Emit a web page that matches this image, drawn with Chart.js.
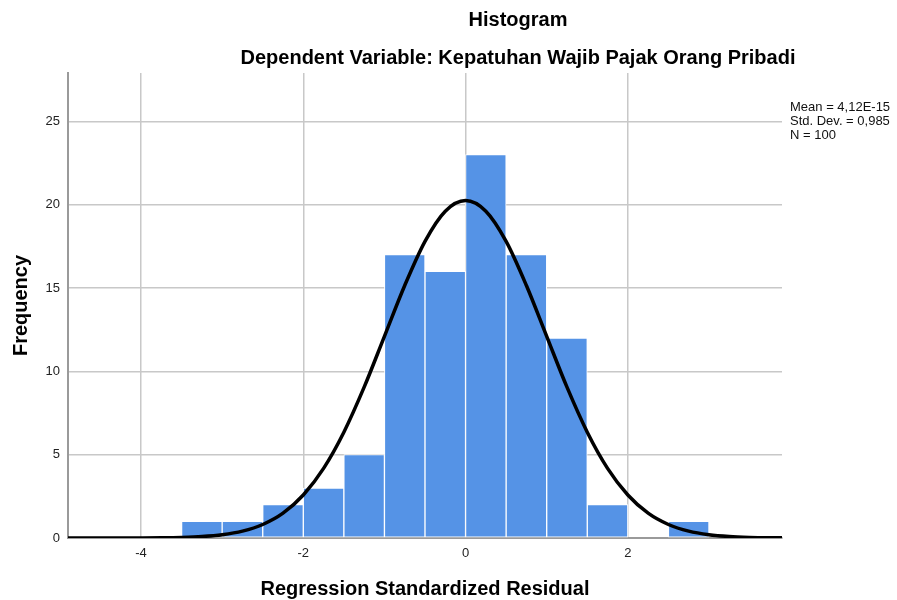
<!DOCTYPE html>
<html>
<head>
<meta charset="utf-8">
<script src="https://cdn.jsdelivr.net/npm/chart.js@4/dist/chart.umd.min.js"></script>
<style>
html,body{margin:0;padding:0;background:#fff;}
#wrap{width:897px;height:600px;position:relative;}
</style>
</head>
<body>
<div id="wrap"><canvas id="c" width="897" height="600"></canvas></div>
<script>
const chartTitle = "Histogram";
const chartSubtitle = "Dependent Variable: Kepatuhan Wajib Pajak Orang Pribadi";
const xAxisTitle = "Regression Standardized Residual";
const yAxisTitle = "Frequency";
const statsLines = ["Mean = 4,12E-15", "Std. Dev. = 0,985", "N = 100"];

const xTickValues = [-4, -2, 0, 2];
const yTickValues = [0, 5, 10, 15, 20, 25];

const binCenters = [-3.25, -2.75, -2.25, -1.75, -1.25, -0.75, -0.25, 0.25, 0.75, 1.25, 1.75, 2.25, 2.75];
const frequencies = [1, 1, 2, 3, 5, 17, 16, 23, 17, 12, 2, 0, 1];

const curveX = [-5, -4.75, -4.5, -4.25, -4, -3.75, -3.5, -3.25, -3, -2.75, -2.5, -2.25, -2, -1.75, -1.5, -1.25, -1, -0.75, -0.5, -0.25, 0,
                0.25, 0.5, 0.75, 1, 1.25, 1.5, 1.75, 2, 2.25, 2.5, 2.75, 3, 3.25, 3.5, 3.75, 4];
const curveY = [0, 0, 0.001, 0.002, 0.005, 0.014, 0.037, 0.088, 0.196, 0.41, 0.81, 1.49, 2.58, 4.18, 6.35, 9.05, 12.10, 15.15, 17.80, 19.61, 20.25,
                19.61, 17.80, 15.15, 12.10, 9.05, 6.35, 4.18, 2.58, 1.49, 0.81, 0.41, 0.196, 0.088, 0.037, 0.014, 0.005];

const FONT = '"Liberation Sans", Arial, sans-serif';

const textPlugin = {
  id: 'textPlugin',
  afterDraw(chart) {
    const ctx = chart.ctx;
    const a = chart.chartArea;
    ctx.save();
    ctx.fillStyle = '#000';
    ctx.textBaseline = 'middle';
    ctx.textAlign = 'center';
    ctx.font = 'bold 20px ' + FONT;
    ctx.fillText(chartTitle, 518, 20);
    ctx.fillText(chartSubtitle, 518, 58);
    ctx.fillText(xAxisTitle, (a.left + a.right) / 2, 589);
    ctx.save();
    ctx.translate(21, (a.top + a.bottom) / 2);
    ctx.rotate(-Math.PI / 2);
    ctx.fillText(yAxisTitle, 0, 0);
    ctx.restore();
    ctx.textAlign = 'left';
    ctx.font = '13px ' + FONT;
    ctx.fillStyle = '#111';
    statsLines.forEach((s, i) => ctx.fillText(s, 790, 107 + i * 14));
    ctx.restore();
  }
};

new Chart(document.getElementById('c'), {
  type: 'bar',
  data: {
    datasets: [
      {
        type: 'line',
        data: curveX.map((x, i) => ({x: x, y: curveY[i]})),
        borderColor: '#000',
        borderWidth: 3.5,
        pointRadius: 0,
        tension: 0.4,
        cubicInterpolationMode: 'monotone',
        fill: false,
        order: 0
      },
      {
        type: 'bar',
        data: binCenters.map((x, i) => ({x: x, y: frequencies[i]})),
        backgroundColor: 'rgb(85,147,230)',
        borderColor: '#ffffff',
        borderWidth: 1,
        borderSkipped: false,
        barPercentage: 1.0,
        categoryPercentage: 1.0,
        order: 1
      }
    ]
  },
  options: {
    responsive: false,
    animation: false,
    layout: {padding: {left: 0, right: 115, top: 73, bottom: 0}},
    plugins: {legend: {display: false}, tooltip: {enabled: false}, title: {display: false}},
    scales: {
      x: {
        type: 'linear',
        min: -4.9,
        max: 3.9,
        offset: false,
        afterBuildTicks: (s) => { s.ticks = xTickValues.map(v => ({value: v})); },
        afterFit: (s) => { s.height = 62; },
        grid: {color: '#c8c8c8', lineWidth: 1.5, drawTicks: false, offset: false},
        border: {color: '#9a9a9a', width: 2},
        ticks: {color: '#222', font: {family: FONT, size: 13}, padding: 8, maxRotation: 0}
      },
      y: {
        type: 'linear',
        min: 0,
        max: 27.9,
        afterBuildTicks: (s) => { s.ticks = yTickValues.map(v => ({value: v})); },
        afterFit: (s) => { s.width = 68; },
        grid: {color: '#c8c8c8', lineWidth: 1.5, drawTicks: false},
        border: {color: '#9a9a9a', width: 2},
        ticks: {color: '#222', font: {family: FONT, size: 13}, padding: 8}
      }
    }
  },
  plugins: [textPlugin]
});
</script>
</body>
</html>
